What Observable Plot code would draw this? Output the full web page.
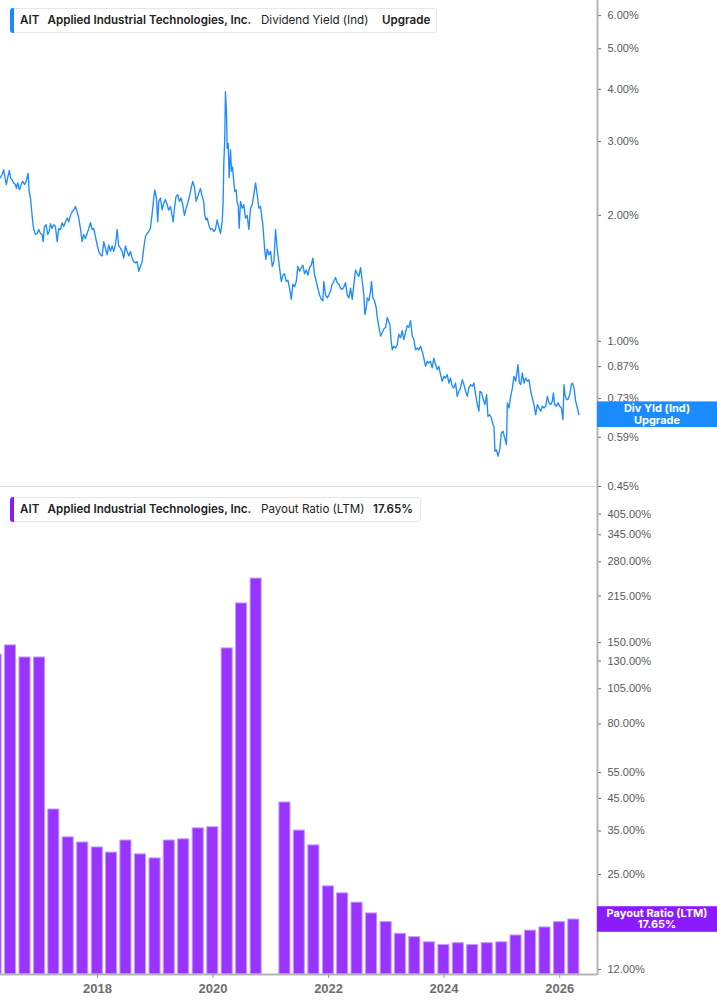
<!DOCTYPE html>
<html><head><meta charset="utf-8">
<script src="https://cdn.jsdelivr.net/npm/d3@7"></script>
<script src="https://cdn.jsdelivr.net/npm/@observablehq/plot@0.6"></script>
<style>
html,body{margin:0;padding:0;background:#fff;}
#wrap{position:relative;width:717px;height:1005px;overflow:hidden;font-family:Inter,"Noto Sans",sans-serif;}
.panel{position:absolute;left:0;}
.legend{position:absolute;left:10px;height:25px;background:#fff;border:1px solid #e6e6e6;border-radius:3px;box-sizing:border-box;}
.legend .bar{position:absolute;left:-1px;top:-1px;bottom:-1px;width:3.5px;border-radius:3px 0 0 3px;}
.legend span{position:absolute;top:50%;transform:translateY(-50%);white-space:nowrap;font-size:11.6px;color:#222;line-height:1;}
.legend .b{font-weight:600;}
</style></head>
<body><div id="wrap">
<div id="bot" class="panel" style="top:490px"></div>
<div id="top" class="panel" style="top:0"></div>
<div class="legend" style="top:8px;width:427px"><div class="bar" style="background:#1E88FF"></div>
<span class="b" style="left:9px">AIT</span><span class="b" style="left:36.5px">Applied Industrial Technologies, Inc.</span><span style="left:250px">Dividend Yield (Ind)</span><span class="b" style="left:371px">Upgrade</span></div>
<div class="legend" style="top:497px;width:411px"><div class="bar" style="background:#8C1AFF"></div>
<span class="b" style="left:9px">AIT</span><span class="b" style="left:36.5px">Applied Industrial Technologies, Inc.</span><span style="left:250px">Payout Ratio (LTM)</span><span class="b" style="left:362px">17.65%</span></div>
</div>
<script>
// ---- Data ----
// Dividend yield (%), [decimal year, value]
const yieldSeries = [
[2016.320,2.46],[2016.349,2.50],[2016.377,2.57],[2016.407,2.43],[2016.424,2.37],[2016.446,2.46],[2016.476,2.56],[2016.493,2.46],[2016.523,2.43],[2016.550,2.39],
[2016.580,2.37],[2016.597,2.32],[2016.620,2.39],[2016.649,2.30],[2016.678,2.37],[2016.706,2.41],[2016.736,2.37],[2016.765,2.41],[2016.800,2.52],[2016.817,2.28],
[2016.840,2.20],[2016.857,2.08],[2016.879,1.93],[2016.897,1.85],[2016.926,1.80],[2016.956,1.81],[2016.983,1.85],[2017.013,1.81],[2017.042,1.80],[2017.059,1.73],
[2017.082,1.88],[2017.111,1.90],[2017.139,1.80],[2017.163,1.83],[2017.186,1.91],[2017.215,1.86],[2017.243,1.90],[2017.272,1.88],[2017.302,1.73],[2017.330,1.86],
[2017.359,1.85],[2017.388,1.92],[2017.416,1.88],[2017.446,1.93],[2017.475,1.97],[2017.503,1.93],[2017.532,2.00],[2017.562,2.04],[2017.589,2.06],[2017.619,2.10],
[2017.648,2.04],[2017.676,1.97],[2017.705,1.86],[2017.735,1.73],[2017.762,1.80],[2017.792,1.76],[2017.821,1.81],[2017.849,1.86],[2017.878,1.92],[2017.908,1.85],
[2017.936,1.86],[2017.965,1.78],[2017.994,1.70],[2018.022,1.64],[2018.052,1.61],[2018.081,1.60],[2018.109,1.73],[2018.138,1.67],[2018.168,1.61],[2018.195,1.70],
[2018.225,1.64],[2018.254,1.69],[2018.282,1.64],[2018.311,1.70],[2018.341,1.85],[2018.368,1.69],[2018.398,1.67],[2018.427,1.64],[2018.455,1.58],[2018.485,1.69],
[2018.514,1.64],[2018.542,1.60],[2018.571,1.64],[2018.601,1.58],[2018.628,1.55],[2018.658,1.54],[2018.687,1.55],[2018.715,1.47],[2018.744,1.51],[2018.774,1.55],
[2018.801,1.67],[2018.831,1.78],[2018.860,1.81],[2018.888,1.83],[2018.917,1.86],[2018.947,2.02],[2018.975,2.20],[2018.992,2.30],[2019.021,2.20],[2019.044,1.93],
[2019.061,2.16],[2019.091,2.20],[2019.120,2.06],[2019.148,2.14],[2019.177,2.18],[2019.207,2.12],[2019.234,2.06],[2019.264,2.10],[2019.293,2.00],[2019.311,1.93],
[2019.333,2.08],[2019.362,2.22],[2019.390,2.24],[2019.420,2.16],[2019.449,2.20],[2019.477,2.12],[2019.506,2.00],[2019.536,2.08],[2019.563,2.14],[2019.593,2.22],
[2019.622,2.32],[2019.650,2.41],[2019.679,2.34],[2019.709,2.16],[2019.736,2.22],[2019.766,2.28],
[2019.783,2.32],[2019.813,2.22],[2019.840,2.16],[2019.858,2.00],[2019.882,1.95],[2019.899,1.97],[2019.927,1.90],[2019.956,1.85],[2019.986,1.86],[2020.014,1.83],
[2020.043,1.85],[2020.072,1.95],[2020.100,1.88],[2020.130,1.81],[2020.159,1.93],[2020.176,2.16],[2020.187,2.64],[2020.204,3.05],[2020.216,3.95],[2020.233,3.54],
[2020.246,2.89],[2020.263,2.97],[2020.280,2.46],[2020.303,2.87],[2020.320,2.55],[2020.337,2.61],[2020.360,2.41],[2020.377,2.28],[2020.401,2.30],[2020.419,2.14],
[2020.436,2.12],[2020.453,1.86],[2020.476,2.16],[2020.505,2.08],[2020.533,2.12],[2020.562,1.97],[2020.592,2.00],[2020.620,1.85],[2020.649,2.08],[2020.678,2.12],
[2020.706,2.24],[2020.736,2.39],[2020.765,2.24],[2020.793,2.08],[2020.822,2.10],[2020.840,2.00],[2020.862,1.90],[2020.879,1.76],[2020.897,1.64],[2020.914,1.57],
[2020.938,1.66],[2020.966,1.61],[2020.995,1.64],[2021.025,1.51],[2021.053,1.55],[2021.082,1.85],[2021.099,1.73],[2021.122,1.61],[2021.151,1.50],[2021.181,1.39],
[2021.208,1.44],[2021.238,1.45],[2021.267,1.39],[2021.295,1.40],[2021.324,1.34],[2021.354,1.26],[2021.382,1.37],[2021.411,1.35],[2021.440,1.39],[2021.468,1.51],
[2021.498,1.47],[2021.527,1.50],[2021.555,1.52],[2021.584,1.45],[2021.614,1.48],[2021.641,1.44],[2021.671,1.50],[2021.700,1.52],[2021.728,1.58],[2021.757,1.44],
[2021.787,1.39],[2021.814,1.34],[2021.844,1.29],[2021.873,1.26],[2021.901,1.25],[2021.918,1.39],[2021.948,1.29],[2021.977,1.27],[2022.005,1.29],[2022.034,1.32],
[2022.064,1.37],[2022.091,1.39],[2022.121,1.42],[2022.150,1.38],[2022.178,1.37],[2022.207,1.34],[2022.237,1.33],[2022.265,1.35],[2022.294,1.38],[2022.323,1.29],
[2022.351,1.27],[2022.381,1.34],[2022.410,1.26],[2022.438,1.37],[2022.467,1.48],[2022.497,1.45],[2022.524,1.43],[2022.554,1.50],[2022.583,1.39],[2022.611,1.29],
[2022.628,1.16],[2022.652,1.20],[2022.670,1.27],[2022.697,1.25],[2022.727,1.32],[2022.744,1.39],[2022.767,1.27],[2022.796,1.25],[2022.826,1.20],[2022.843,1.14],
[2022.900,1.03],[2022.930,1.05],[2022.957,1.07],[2022.987,1.08],[2023.016,1.14],[2023.044,1.11],[2023.061,1.10],[2023.085,1.00],[2023.103,0.955],[2023.130,0.973],
[2023.160,0.964],[2023.189,0.982],[2023.217,1.04],[2023.246,1.02],[2023.276,1.06],[2023.304,1.01],[2023.333,1.05],[2023.362,1.09],[2023.390,1.08],[2023.420,1.12],
[2023.449,1.03],[2023.477,1.01],[2023.506,0.955],[2023.536,0.964],[2023.563,0.955],[2023.593,0.973],[2023.622,0.946],[2023.650,0.912],[2023.679,0.872],[2023.709,0.896],
[2023.736,0.887],[2023.766,0.896],[2023.795,0.864],[2023.823,0.912],[2023.853,0.880],[2023.882,0.856],[2023.910,0.872],[2023.939,0.833],[2023.969,0.803],[2023.996,0.825],
[2024.026,0.817],[2024.055,0.833],[2024.083,0.795],[2024.112,0.817],[2024.142,0.781],[2024.169,0.774],[2024.199,0.795],[2024.228,0.739],[2024.256,0.760],[2024.285,0.774],
[2024.315,0.810],[2024.343,0.788],[2024.372,0.760],[2024.401,0.739],[2024.429,0.774],[2024.459,0.788],[2024.488,0.781],[2024.516,0.795],[2024.545,0.746],[2024.575,0.706],
[2024.602,0.681],[2024.620,0.760],[2024.649,0.753],[2024.678,0.726],[2024.706,0.706],[2024.736,0.746],[2024.758,0.662],[2024.788,0.668],[2024.817,0.656],[2024.845,0.633],
[2024.862,0.627],[2024.879,0.546],[2024.904,0.551],[2024.931,0.532],[2024.961,0.551],[2024.990,0.604],[2025.018,0.610],[2025.047,0.588],[2025.077,0.567],[2025.094,0.713],
[2025.122,0.693],[2025.151,0.739],[2025.181,0.774],[2025.208,0.825],[2025.238,0.803],[2025.255,0.833],[2025.278,0.880],[2025.302,0.795],[2025.324,0.788],[2025.354,0.840],
[2025.382,0.795],[2025.411,0.817],[2025.440,0.803],[2025.468,0.810],[2025.498,0.760],[2025.527,0.732],[2025.555,0.706],[2025.584,0.668],[2025.614,0.706],[2025.641,0.693],
[2025.671,0.681],[2025.700,0.700],[2025.728,0.693],[2025.757,0.700],[2025.787,0.739],[2025.814,0.713],[2025.844,0.706],[2025.873,0.719],[2025.891,0.753],[2025.913,0.706],
[2025.943,0.700],[2025.970,0.713],[2026.000,0.700],[2026.029,0.693],[2026.057,0.650],[2026.074,0.788],[2026.091,0.746],[2026.116,0.726],[2026.143,0.726],[2026.173,0.746],
[2026.202,0.788],[2026.220,0.795],[2026.247,0.774],[2026.277,0.719],[2026.306,0.693],[2026.334,0.668]
];

// Payout ratio (LTM, %), fiscal quarter ends
const quarterEnds = ["2016-03-31","2016-06-30","2016-09-30","2016-12-31","2017-03-31","2017-06-30","2017-09-30","2017-12-31",
"2018-03-31","2018-06-30","2018-09-30","2018-12-31","2019-03-31","2019-06-30","2019-09-30","2019-12-31",
"2020-03-31","2020-06-30","2020-09-30","2020-12-31","2021-03-31","2021-06-30","2021-09-30","2021-12-31",
"2022-03-31","2022-06-30","2022-09-30","2022-12-31","2023-03-31","2023-06-30","2023-09-30","2023-12-31",
"2024-03-31","2024-06-30","2024-09-30","2024-12-31","2025-03-31","2025-06-30","2025-09-30","2025-12-31","2026-03-31"];
const payoutValues = [136.8,146.8,133.7,133.7,41.3,33.3,32.0,30.8,
29.6,32.5,29.2,28.3,32.5,32.8,35.7,36.0,
143.4,203.0,246.0,null,43.6,35.1,31.3,22.8,
21.6,20.1,18.5,17.3,15.8,15.4,14.8,14.5,
14.7,14.5,14.7,14.8,15.6,16.2,16.6,17.3,17.65];

const yieldTicks = [0.45,0.59,0.73,0.87,1.00,2.00,3.00,4.00,5.00,6.00];
const payoutTicks = [12,17,25,35,45,55,80,105,130,150,215,280,345,405];
const yearTicks = ["2018","2020","2022","2024","2026"];
const yieldLabel = ["Div Yld (Ind)","Upgrade"];
const payoutLabel = ["Payout Ratio (LTM)","17.65%"];

// ---- Build ----
const toDate = t => { const y = Math.floor(t); const a = Date.UTC(y,0,1), b = Date.UTC(y+1,0,1); return new Date(a + (t - y) * (b - a)); };
const yieldData = yieldSeries.map(([t, v]) => ({date: toDate(t), value: v}));
const payData = quarterEnds.map((d, i) => ({date: new Date(d), value: payoutValues[i]})).filter(d => d.value != null);

const W = 717;
const xDomain = [new Date("2016-04-28"), new Date("2026-08-28")];
const topY = [0.45, 6.52];
const botY = [11.54, 478.4];
const pct = d => d.toFixed(2) + "%";
const axisFont = '"Liberation Sans", Arial, sans-serif';

const topPlot = Plot.plot({
  width: W, height: 494, marginLeft: 0, marginRight: 120, marginTop: 0, marginBottom: 8,
  style: {fontFamily: axisFont, fontSize: "11px", background: "transparent"},
  x: {type: "utc", domain: xDomain, axis: null},
  y: {type: "log", domain: topY},
  marks: [
    Plot.ruleY([topY[0]], {stroke: "#d9d9d9", strokeWidth: 1}),
    Plot.line(yieldData, {x: "date", y: "value", stroke: "#1E8CFF", strokeWidth: 1.35}),
    Plot.axisY({anchor: "right", ticks: yieldTicks, tickFormat: pct, tickSize: 3, tickPadding: 7, label: null, fill: "#5a5a5a", stroke: "#666", fontSize: 11}),
    Plot.ruleX([xDomain[1]], {stroke: "#b5b5b5", strokeWidth: 2, insetBottom: -4})
  ]
});

const botPlot = Plot.plot({
  width: W, height: 515, marginLeft: 0, marginRight: 120, marginTop: 2, marginBottom: 31,
  style: {fontFamily: axisFont, fontSize: "11px", background: "transparent"},
  x: {type: "utc", domain: xDomain},
  y: {type: "log", domain: botY},
  marks: [
    Plot.rect(payData, {x1: d => d3.utcDay.offset(d.date, -35), x2: d => d3.utcDay.offset(d.date, 35), y1: botY[0], y2: "value", fill: "#9933FF", stroke: "#c59aff", strokeWidth: 1, clip: true}),
    Plot.ruleY([botY[0]], {stroke: "#b5b5b5", strokeWidth: 2}),
    Plot.axisX({ticks: yearTicks.map(y => new Date(y + "-01-01")), tickFormat: d3.utcFormat("%Y"), tickSize: 4, tickPadding: 5, label: null, fill: "#6e6e6e", stroke: "#999", fontWeight: "bold", fontSize: 13}),
    Plot.axisY({anchor: "right", ticks: payoutTicks, tickFormat: pct, tickSize: 3, tickPadding: 7, label: null, fill: "#5a5a5a", stroke: "#666", fontSize: 11}),
    Plot.ruleX([xDomain[1]], {stroke: "#b5b5b5", strokeWidth: 2, insetTop: -2, insetBottom: -1})
  ]
});

function addLabel(plot, value, lines, color) {
  const cy = plot.scale("y").apply(value);
  const x0 = plot.scale("x").apply(xDomain[1]);
  const g = d3.select(plot).append("g");
  g.append("rect").attr("x", x0).attr("y", cy - 12.8).attr("width", W - x0).attr("height", 25.6).attr("fill", color);
  g.selectAll("text").data(lines).join("text")
    .attr("x", (x0 + W) / 2).attr("y", (d, i) => cy - 6 + i * 11.6)
    .attr("text-anchor", "middle").attr("dy", "0.35em")
    .attr("fill", "#fff").attr("font-weight", "bold").attr("font-size", 11)
    .attr("font-family", "Inter, 'Noto Sans', sans-serif")
    .text(d => d);
}
addLabel(topPlot, yieldData[yieldData.length - 1].value, yieldLabel, "#1A8CFF");
addLabel(botPlot, payData[payData.length - 1].value, payoutLabel, "#8C1AFF");

document.getElementById("top").appendChild(topPlot);
document.getElementById("bot").appendChild(botPlot);
</script>
</body></html>
